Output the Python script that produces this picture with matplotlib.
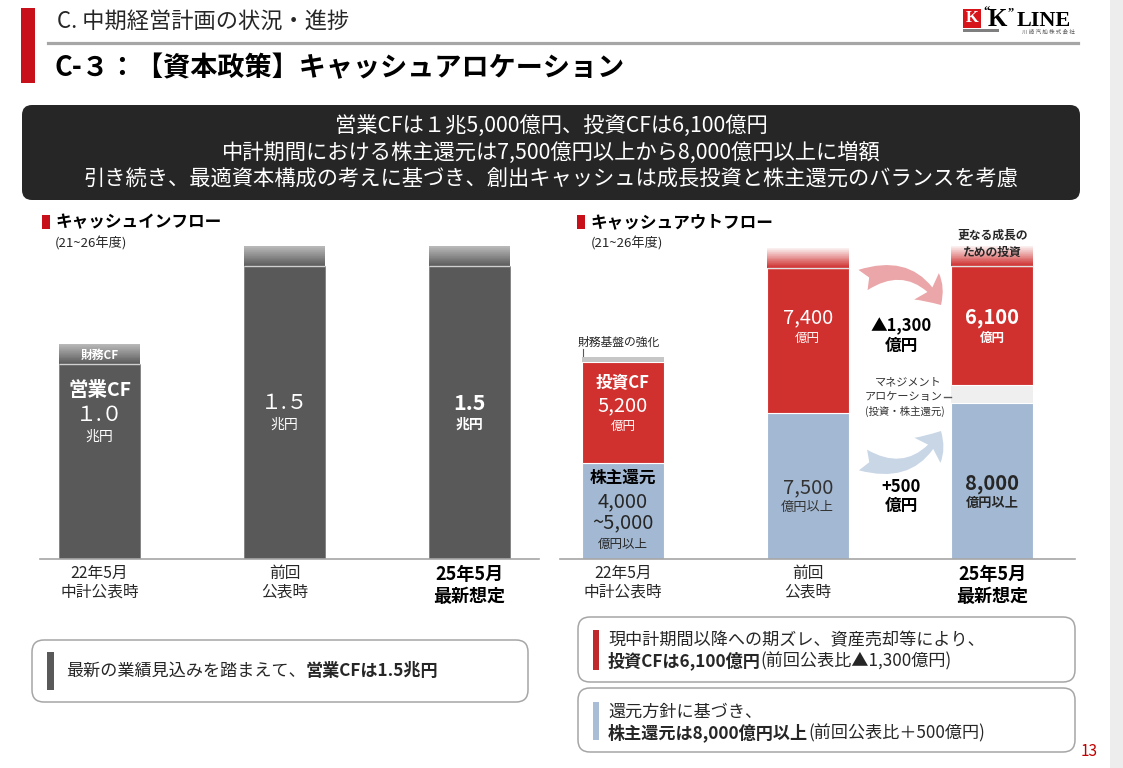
import numpy as np
import matplotlib
matplotlib.use("Agg")
import matplotlib.pyplot as plt
from matplotlib import transforms
from matplotlib.colors import to_rgb
from matplotlib.lines import Line2D
from matplotlib.patches import Rectangle, FancyBboxPatch, FancyArrowPatch

plt.rcParams['font.family'] = ['Noto Sans CJK JP', 'DejaVu Sans']

# ---- data -------------------------------------------------------------
periods = [["22年5月", "中計公表時"], ["前回", "公表時"], ["25年5月", "最新想定"]]

# cash inflow (兆円)
op_cf = [1.0, 1.5, 1.5]
fin_cf = [0.1, 0.1, 0.1]
op_labels = ["１.０", "１.５", "1.5"]

# cash outflow (億円)
returns = [4900, 7500, 8000]
mgmt_alloc = [0, 0, 900]
invest_cf = [5200, 7400, 6100]
top_up = [250, 1000, 1000]
invest_labels = ["5,200", "7,400", "6,100"]
returns_labels = [["4,000", "~5,000"], ["7,500"], ["8,000"]]

# ---- figure / helpers -------------------------------------------------
W, H = 1123, 768
fig = plt.figure(figsize=(W / 100, H / 100), dpi=100)
fig.patch.set_facecolor('white')
PX = transforms.Affine2D().scale(1 / W, -1 / H).translate(0, 1) + fig.transFigure
DARK = '#262626'


def txt(x, y, s, size, bold=False, color=DARK, ha='center', tr=PX, **kw):
    return fig.text(x, y, s, transform=tr, fontsize=size,
                    fontweight='bold' if bold else 'normal', color=color,
                    ha=ha, va='center', **kw)


def runs(x, y, parts, size):
    r = fig.canvas.get_renderer()
    for s, bold in parts:
        t = txt(x, y, s, size, bold=bold, ha='left')
        x += t.get_window_extent(r).width


def rect(x, y, w, h, color, **kw):
    fig.add_artist(Rectangle((x, y), w, h, transform=PX, color=color, lw=0, **kw))


def rbox(x, y, w, h, r, **kw):
    fig.add_artist(FancyBboxPatch((x, y), w, h, transform=PX,
                                  boxstyle=f"round,pad=0,rounding_size={r}", **kw))


def cap(ax, x, w, base, h, bot, top, n=30):
    base = np.asarray(base, float)
    h = np.asarray(h, float)
    bot = np.array([to_rgb(c) for c in bot])
    top = np.array([to_rgb(c) for c in top])
    for k in range(n):
        cols = bot + (top - bot) * (k / (n - 1))
        ax.bar(x, h / n, w, bottom=base + h * k / n, color=cols,
               linewidth=0, antialiased=False)


def clean(ax):
    for s in ax.spines.values():
        s.set_visible(False)
    ax.set_xticks([])
    ax.set_yticks([])
    ax.patch.set_alpha(0)
    ax.axhline(0, color='#a6a6a6', lw=1.2, clip_on=False)


# ---- header -------------------------------------------------------------
rect(1110, 0, 13, H, '#ededed')
rect(21, 8, 14, 75, '#c8101a')
fig.add_artist(Line2D([48, 1078], [43, 43], transform=PX, color='#a6a6a6', lw=2.3))
txt(57, 21, "C. 中期経営計画の状況・進捗", 16, ha='left')
txt(55, 68, "C-３：【資本政策】キャッシュアロケーション", 19.5, bold=True,
    ha='left', color='black')

# logo
rect(963, 9, 18, 19, '#d7141a')
txt(972, 18.5, "K", 12, bold=True, color='white', family='Liberation Serif')
txt(983, 12, "\u201c", 9, bold=True, color='black', ha='left', family='Liberation Serif')
txt(988, 19, "K", 18, bold=True, color='black', ha='left', family='Liberation Serif')
txt(1008, 12, "\u201d", 9, bold=True, color='black', ha='left', family='Liberation Serif')
txt(1017, 21, "LINE", 16, bold=True, color='black', ha='left',
    family='Liberation Serif')
rect(963, 29, 36, 3, '#7f7f7f')
txt(1048, 32, "川 崎 汽 船 株 式 会 社", 4, color='#595959')

# banner
rbox(22, 105, 1058, 95, 10, color='#262626', lw=0)
banner = ["営業CFは１兆5,000億円、投資CFは6,100億円",
          "中計期間における株主還元は7,500億円以上から8,000億円以上に増額",
          "引き続き、最適資本構成の考えに基づき、創出キャッシュは成長投資と株主還元のバランスを考慮"]
for i, line in enumerate(banner):
    txt(551, 126 + 27 * i, line, 15.3, color='white')

# section titles
rect(42, 215, 8, 14, '#c8101a')
txt(55, 222, "キャッシュインフロー", 12, bold=True, ha='left', color='black')
txt(55, 244, "(21~26年度)", 9.5, ha='left')
rect(577, 215, 8, 14, '#c8101a')
txt(590, 222, "キャッシュアウトフロー", 12, bold=True, ha='left', color='black')
txt(591, 244, "(21~26年度)", 9.5, ha='left')

# ---- inflow chart -------------------------------------------------------
SCALE = 293 / 1.5  # px per 兆円
x = np.arange(3)
wL = 0.438
axL = fig.add_axes([40 / W, 1 - 559 / H, 499 / W, 329 / H])
axL.set_xlim(-0.322, 2.376)
axL.set_ylim(0, 329 / SCALE)
axL.bar(x, op_cf, wL, color='#595959', edgecolor='#7f7f7f', linewidth=0.6)
cap(axL, x, wL, op_cf, fin_cf, ['#5c5c5c'] * 3, ['#b8b8b8'] * 3)
axL.hlines(op_cf, x - wL / 2, x + wL / 2, color='#d0d0d0', lw=1)
clean(axL)
BL = transforms.blended_transform_factory(axL.transData, PX)

txt(0, 355, "財務CF", 8.5, bold=True, color='white', tr=BL)
txt(0, 390, "営業CF", 14, bold=True, color='white', tr=BL)
for i in range(3):
    top = 415 if i == 0 else 403
    b = i == 2
    txt(i, top, op_labels[i], 15.5 if b else 15, bold=b, color='white', tr=BL)
    txt(i, top + 22, "兆円", 10, bold=b, color='white', tr=BL)
    for j, line in enumerate(periods[i]):
        if i == 2:
            txt(i, 575 + 22 * j, line, 13, bold=True, color='black', tr=BL)
        else:
            txt(i, 573 + 19 * j, line, 11.3, tr=BL)

# ---- outflow chart ------------------------------------------------------
wR = 0.444
axR = fig.add_axes([560 / W, 1 - 559 / H, 515 / W, 329 / H])
axR.set_xlim(-0.341, 2.447)
axR.set_ylim(0, 329 / SCALE * 10000)
b1 = np.array(returns, float)
b2 = b1 + np.array(mgmt_alloc)
b3 = b2 + np.array(invest_cf)
axR.bar(x, returns, wR, color='#a3b9d3', edgecolor='white', linewidth=0.8)
axR.bar(x, mgmt_alloc, wR, bottom=b1, color='#efefef', linewidth=0)
axR.bar(x, invest_cf, wR, bottom=b2, color='#d0312f', edgecolor='white', linewidth=0.8)
cap(axR, x, wR, b3, top_up, ['#c6c6c6', '#cf2f2f', '#cf2f2f'],
    ['#c6c6c6', '#fbeeee', '#fbeeee'])
axR.hlines(b3[1:], x[1:] - wR / 2, x[1:] + wR / 2, color='#e2e2e2', lw=1)
clean(axR)
BR = transforms.blended_transform_factory(axR.transData, PX)

txt(578, 342, "財務基盤の強化", 8.5, ha='left')
fig.add_artist(Line2D([583, 583], [349, 356], transform=PX, color='#595959', lw=0.8))

txt(0, 383, "投資CF", 12, bold=True, color='white', tr=BR)
for i, top in enumerate([406, 318, 318]):
    b = i == 2
    txt(i, top, invest_labels[i], 14.5, bold=b, color='white', tr=BR)
    txt(i, top + 20, "億円", 9, bold=b, color='white', tr=BR)
txt(0, 478, "株主還元", 12, bold=True, color='black', tr=BR)
txt(0, 502, returns_labels[0][0], 14.5, tr=BR)
txt(0, 523, returns_labels[0][1], 14.5, tr=BR)
txt(0, 544, "億円以上", 9, tr=BR)
txt(1, 488, returns_labels[1][0], 14.5, color='#333333', tr=BR)
txt(1, 507, "億円以上", 9.5, color='#333333', tr=BR)
txt(2, 484, returns_labels[2][0], 14.5, bold=True, tr=BR)
txt(2, 503, "億円以上", 9.5, bold=True, tr=BR)
txt(2, 235, "更なる成長の", 8.5, bold=True, tr=BR)
txt(2, 252, "ための投資", 8.5, bold=True, tr=BR)
for i in range(3):
    for j, line in enumerate(periods[i]):
        if i == 2:
            txt(i, 575 + 22 * j, line, 13, bold=True, color='black', tr=BR)
        else:
            txt(i, 573 + 19 * j, line, 11.3, tr=BR)

# arrows and middle notes
fig.add_artist(FancyArrowPatch((863, 280), (941, 305), transform=PX,
                               connectionstyle="arc3,rad=-0.45",
                               arrowstyle="fancy,head_length=17,head_width=26,tail_width=16",
                               color='#eaa6a8', lw=0, shrinkA=0, shrinkB=0))
fig.add_artist(FancyArrowPatch((863, 460), (941, 431), transform=PX,
                               connectionstyle="arc3,rad=0.45",
                               arrowstyle="fancy,head_length=17,head_width=26,tail_width=16",
                               color='#c8d6e6', lw=0, shrinkA=0, shrinkB=0))
txt(901, 326, "▲1,300", 12, bold=True, color='black')
txt(901, 346, "億円", 12, bold=True, color='black')
txt(908, 382, "マネジメント", 8, color='#333333')
txt(904, 397, "アロケーション", 8, color='#333333')
txt(905, 411, "(投資・株主還元)", 7.5, color='#333333')
fig.add_artist(Line2D([944, 951], [397, 397], transform=PX, color='#595959', lw=1))
txt(901, 487, "+500", 12, bold=True, color='black')
txt(901, 506, "億円", 12, bold=True, color='black')

# ---- bottom notes -------------------------------------------------------
for (bx, by, bw, bh) in [(32, 640, 496, 62), (578, 617, 497, 65), (578, 688, 497, 64)]:
    rbox(bx, by, bw, bh, 12, facecolor='white', edgecolor='#a6a6a6', lw=1.1)
rect(47, 652, 7, 38, '#595959')
rect(593, 630, 6, 40, '#c0292b')
rect(593, 702, 6, 38, '#a9bed6')
runs(66, 671, [("最新の業績見込みを踏まえて、", False), ("営業CFは1.5兆円", True)], 12.3)
runs(608, 640, [("現中計期間以降への期ズレ、資産売却等により、", False)], 12.3)
runs(608, 661, [("投資CFは6,100億円", True), ("(前回公表比▲1,300億円)", False)], 12.3)
runs(608, 712, [("還元方針に基づき、", False)], 12.3)
runs(608, 733, [("株主還元は8,000億円以上", True), ("(前回公表比＋500億円)", False)], 12.3)
txt(1089, 752, "13", 11, color='#c00000')

fig.savefig("out.png", dpi=100)
